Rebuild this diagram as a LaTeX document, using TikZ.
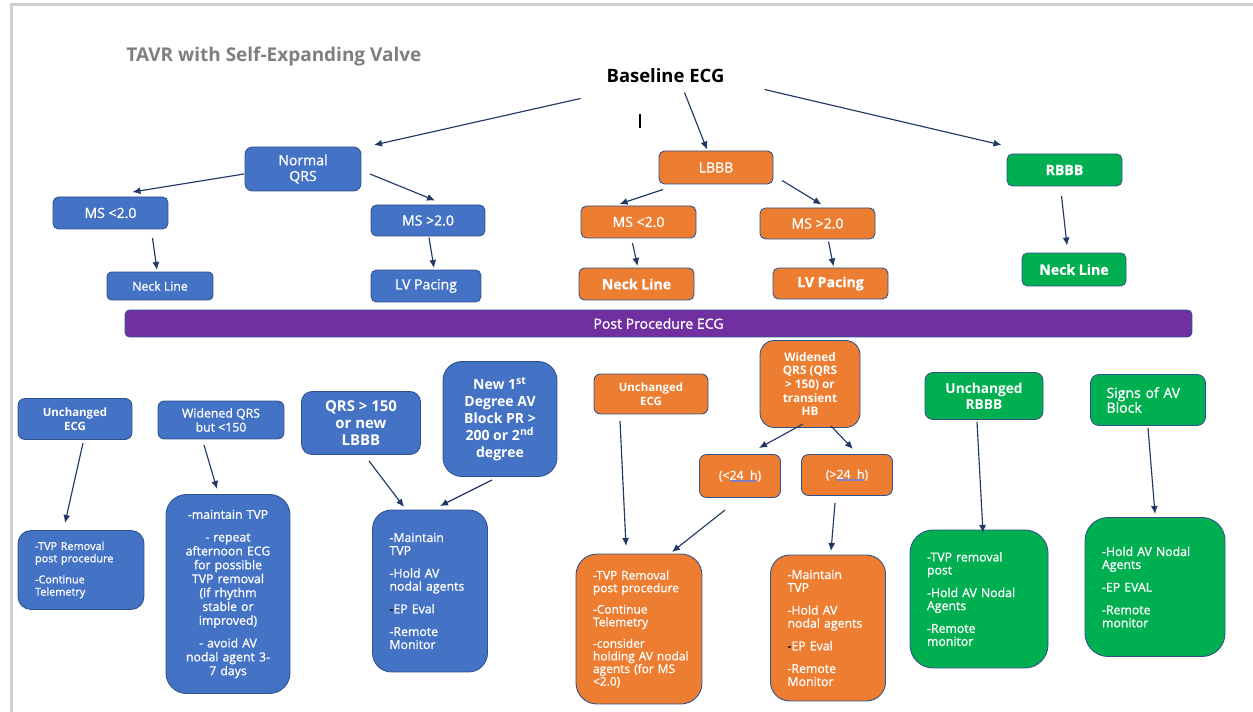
\documentclass[tikz,border=0pt]{standalone}
\usepackage{fontspec}
\setmainfont{Open Sans}
\newfontfamily\boxfont{Open Sans}[FakeBold=1]
\usepackage{xcolor}
\usepackage{tikz}
\usetikzlibrary{arrows.meta,calc}
\definecolor{qrsblue}{HTML}{4472C4}
\definecolor{lbbborange}{HTML}{ED7D31}
\definecolor{rbbbgreen}{HTML}{00B050}
\definecolor{postpurple}{HTML}{7030A0}
\definecolor{edgeblue}{HTML}{2F528F}
\definecolor{arrownavy}{HTML}{1F3864}
\definecolor{titlegray}{HTML}{7F7F7F}
\definecolor{framegray}{HTML}{D0D0D0}
\definecolor{ulblue}{HTML}{8080C8}
\newcommand{\fsz}[2]{\fontsize{#1pt}{#2pt}\selectfont}
\newcommand{\blk}{{\color{black}-}}

\begin{document}
\begin{tikzpicture}[x=0.02cm, y=-0.02cm,
    box/.style={rectangle, rounded corners=0.11cm, draw=edgeblue, line width=0.5pt, text=white, align=center, inner sep=1pt, font=\boxfont\fsz{8}{9}},
    bbox/.style={box, fill=qrsblue},
    obox/.style={box, fill=lbbborange},
    gbox/.style={box, fill=rbbbgreen},
    act/.style={align=left, inner xsep=0.34cm, font=\boxfont\fsz{7}{7.4}},
    arrow/.style={-{Latex[length=1.6mm,width=1.4mm]}, line width=0.65pt, arrownavy},
    gramline/.style={ulblue, line width=0.9pt}
]
    \useasboundingbox (0,0) rectangle (1253,712);
    \draw[framegray, line width=1.2pt] (11.5,712) -- (11.5,4.5) -- (1253,4.5);

    \node[anchor=west, text=titlegray, font=\bfseries\fsz{10.8}{12}, inner sep=0] (title) at (126,57) {TAVR with Self-Expanding Valve};
    \node[font=\bfseries\fsz{10.5}{12}, inner sep=0] (base) at (665.5,75.5) {Baseline ECG};
    \draw[line width=0.6pt] (640,114) -- (640,128);

    \node[bbox, minimum width=2.32cm, minimum height=0.88cm, rounded corners=0.15cm] (nqrs) at (303,169) {Normal\\QRS};
    \node[obox, minimum width=2.28cm, minimum height=0.66cm] (lbbb) at (716,167.5) {LBBB};
    \node[gbox, minimum width=2.30cm, minimum height=0.64cm] (rbbb) at (1064.5,170) {\textbf{RBBB}};

    \node[bbox, minimum width=2.30cm, minimum height=0.64cm] (bms1) at (110.5,213) {MS <2.0};
    \node[bbox, minimum width=2.28cm, minimum height=0.62cm] (bms2) at (428,220.5) {MS >2.0};
    \node[obox, minimum width=2.30cm, minimum height=0.64cm] (oms1) at (638.5,222) {MS <2.0};
    \node[obox, minimum width=2.30cm, minimum height=0.62cm] (oms2) at (817.5,223.5) {MS >2.0};

    \node[bbox, minimum width=2.12cm, minimum height=0.56cm, rounded corners=0.09cm, font=\boxfont\fsz{7}{8}] (bneck) at (160,286) {Neck Line};
    \node[bbox, minimum width=2.20cm, minimum height=0.64cm] (blv) at (426,286) {LV Pacing};
    \node[obox, minimum width=2.30cm, minimum height=0.64cm] (oneck) at (636.5,284) {\textbf{Neck Line}};
    \node[obox, minimum width=2.30cm, minimum height=0.62cm] (olv) at (830.5,283.5) {\textbf{LV Pacing}};
    \node[gbox, minimum width=2.08cm, minimum height=0.66cm] (gneck) at (1074,269.5) {\textbf{Neck Line}};

    \node[box, fill=postpurple, minimum width=21.34cm, minimum height=0.54cm, rounded corners=0.09cm] (post) at (658.5,323.5) {Post Procedure ECG};

    \node[bbox, minimum width=2.28cm, minimum height=0.82cm, rounded corners=0.14cm, font=\bfseries\fsz{6.5}{7.8}] (bunch) at (75,419) {Unchanged\\ECG};
    \node[bbox, minimum width=2.52cm, minimum height=0.76cm, rounded corners=0.13cm, font=\boxfont\fsz{7}{8}] (bwide) at (221,420) {Widened QRS\\but <150};
    \node[bbox, minimum width=2.38cm, minimum height=1.26cm, rounded corners=0.21cm, font=\bfseries\fsz{8.5}{9.6}] (bqrs) at (361,423) {QRS > 150\\or new\\LBBB};
    \node[bbox, minimum width=2.28cm, minimum height=2.30cm, rounded corners=0.38cm, font=\bfseries\fsz{8}{9.6}] (bnew) at (500,419) {New 1\textsuperscript{st}\\Degree AV\\Block PR >\\200 or 2\textsuperscript{nd}\\degree};
    \node[obox, minimum width=2.28cm, minimum height=0.80cm, rounded corners=0.13cm, font=\bfseries\fsz{6.5}{7.8}] (ounch) at (651,394) {Unchanged\\ECG};
    \node[obox, minimum width=2.00cm, minimum height=1.74cm, rounded corners=0.29cm, font=\bfseries\fsz{6.7}{7.8}] (owide) at (810,384) {Widened\\QRS (QRS\\> 150) or\\transient\\HB};
    \node[obox, minimum width=1.62cm, minimum height=0.86cm, rounded corners=0.14cm, font=\boxfont\fsz{7}{8}] (olt) at (740,476) {(<24\ \ h)};
    \node[obox, minimum width=1.82cm, minimum height=0.82cm, rounded corners=0.14cm, font=\boxfont\fsz{7}{8}] (ogt) at (847,475) {(>24\ \ h)};
    \draw[gramline] ($(olt)+(-10,5)$) -- ($(olt)+(16,5)$);
    \draw[gramline] ($(ogt)+(-10,5)$) -- ($(ogt)+(16,5)$);
    \node[gbox, minimum width=2.36cm, minimum height=0.94cm, rounded corners=0.16cm, font=\bfseries\fsz{7.8}{9}] (gunch) at (984,396) {Unchanged\\RBBB};
    \node[gbox, minimum width=2.30cm, minimum height=1.02cm, rounded corners=0.17cm, align=left, inner xsep=0.32cm, text width=1.66cm, font=\boxfont\fsz{8}{8.4}] (gsign) at (1148,400) {Signs of AV\\Block};

    \node[bbox, act, minimum width=2.52cm, text width=1.84cm, minimum height=1.58cm, rounded corners=0.26cm, font=\boxfont\fsz{6.2}{7}] (bact1) at (81,570) {-TVP Removal\\post procedure\\[5pt]-Continue\\Telemetry};
    \node[bbox, minimum width=2.48cm, text width=2.08cm, minimum height=3.98cm, rounded corners=0.41cm, font=\boxfont\fsz{7}{7.9}] (bact2) at (228,594) {-maintain TVP\\[5pt]- repeat\\afternoon ECG\\for possible\\TVP removal\\(if rhythm\\stable or\\improved)\\[5pt]- avoid AV\\nodal agent 3-\\7 days};
    \node[bbox, act, minimum width=2.30cm, text width=1.62cm, minimum height=3.24cm, rounded corners=0.38cm] (bact3) at (430,591) {-Maintain\\TVP\\[5.5pt]-Hold AV\\nodal agents\\[5.5pt]\blk EP Eval\\[5.5pt]-Remote\\Monitor};
    \node[obox, act, minimum width=2.52cm, text width=1.84cm, minimum height=3.00cm, rounded corners=0.42cm, font=\boxfont\fsz{6.8}{7.2}] (oact1) at (639,629) {-TVP Removal\\post procedure\\[5pt]-Continue\\Telemetry\\[5pt]-consider\\\mbox{holding AV nodal}\\agents (for MS\\<2.0)};
    \node[obox, act, minimum width=2.30cm, text width=1.62cm, minimum height=2.92cm, rounded corners=0.38cm] (oact2) at (828,628) {-Maintain\\TVP\\[5.5pt]-Hold AV\\nodal agents\\[5.5pt]\blk EP Eval\\[5.5pt]-Remote\\Monitor};
    \node[gbox, act, minimum width=2.76cm, text width=2.08cm, minimum height=2.76cm, rounded corners=0.46cm] (gact1) at (979,599) {-TVP removal\\post\\[5.5pt]-Hold AV Nodal\\Agents\\[5.5pt]-Remote\\monitor};
    \node[gbox, act, minimum width=2.80cm, text width=2.12cm, minimum height=2.78cm, rounded corners=0.46cm] (gact2) at (1155,587) {-Hold AV Nodal\\Agents\\[5.5pt]-EP EVAL\\[5.5pt]-Remote\\monitor};

    \draw[arrow] ($(base)+(-85,23)$) -- ($(nqrs)+(71,-24)$);
    \draw[arrow] ($(base)+(19,17)$) -- ($(lbbb)+(-9,-18)$);
    \draw[arrow] ($(base)+(99,14)$) -- ($(rbbb)+(-63,-25)$);
    \draw[arrow] ($(nqrs)+(-59,5)$) -- ($(bms1)+(22,-21)$);
    \draw[arrow] ($(nqrs)+(67,5)$) -- ($(bms2)+(7,-20)$);
    \draw[arrow] ($(bms1)+(42,25)$) -- ($(bneck)+(-3,-16)$);
    \draw[arrow] ($(bms2)+(1,17)$) -- ($(blv)+(8,-18)$);
    \draw[arrow] ($(lbbb)+(-53,22)$) -- ($(oms1)+(-19,-18)$);
    \draw[arrow] ($(lbbb)+(66,13)$) -- ($(oms2)+(4,-19)$);
    \draw[arrow] ($(oms1)+(-6,21)$) -- ($(oneck)+(1,-18)$);
    \draw[arrow] ($(oms2)+(11,18)$) -- ($(olv)+(3,-17)$);
    \draw[arrow] ($(rbbb)+(-3,26)$) -- ($(gneck)+(-7,-24)$);

    \draw[arrow] ($(bunch)+(8,24)$) -- ($(bact1)+(-16,-47)$);
    \draw[arrow] ($(bwide)+(-17,25)$) -- ($(bact2)+(-11,-105)$);
    \draw[arrow] ($(bqrs)+(8,38)$) -- ($(bact3)+(-26,-84)$);
    \draw[arrow] ($(bnew)+(-8,61)$) -- ($(bact3)+(10,-85)$);
    \draw[arrow] ($(ounch)+(-31,27)$) -- ($(oact1)+(-13,-83)$);
    \draw[arrow] ($(owide)+(-7,40)$) -- ($(olt)+(19,-28)$);
    \draw[arrow] ($(owide)+(21,42)$) -- ($(ogt)+(6,-26)$);
    \draw[arrow] ($(olt)+(-15,34)$) -- ($(oact1)+(33,-77)$);
    \draw[arrow] ($(ogt)+(-12,28)$) -- ($(oact2)+(3,-77)$);
    \draw[arrow] ($(gunch)+(-7,26)$) -- ($(gact1)+(4,-66)$);
    \draw[arrow] ($(gsign)+(0,28)$) -- ($(gact2)+(0,-73)$);
\end{tikzpicture}
\end{document}
